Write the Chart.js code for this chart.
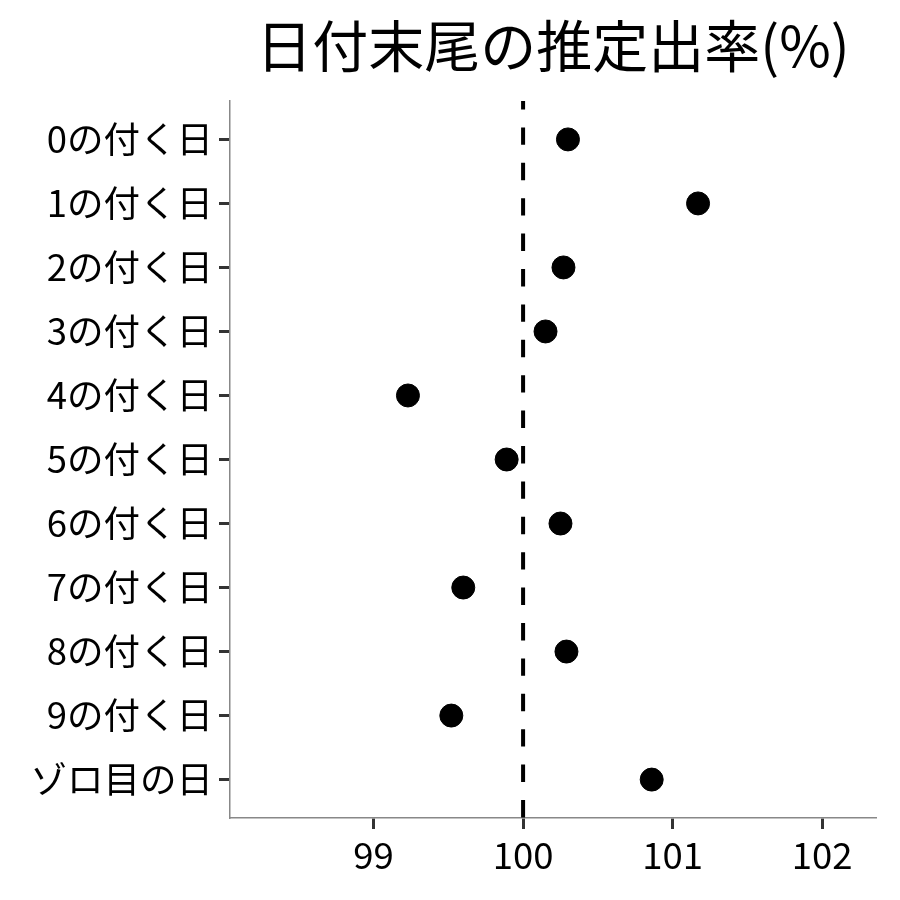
<!DOCTYPE html>
<html>
<head>
<meta charset="utf-8">
<script src="https://cdn.jsdelivr.net/npm/chart.js@4/dist/chart.umd.min.js"></script>
<style>
  html, body { margin: 0; padding: 0; background: #fff; }
  #wrap { width: 900px; height: 900px; }
</style>
</head>
<body>
<div id="wrap"><canvas id="myChart" width="900" height="900"></canvas></div>
<script>
// data
var categories = ["0の付く日", "1の付く日", "2の付く日", "3の付く日", "4の付く日",
  "5の付く日", "6の付く日", "7の付く日", "8の付く日", "9の付く日", "ゾロ目の日"];
var rates = [100.30, 101.17, 100.27, 100.15, 99.23, 99.89, 100.25, 99.60, 100.29, 99.52, 100.86];
var xTicks = [99, 100, 101, 102];
var refValue = 100;
var titleText = "日付末尾の推定出率(%)";

var FONT = "'Noto Sans CJK JP', 'Noto Sans', sans-serif";

var points = categories.map(function(c, i){ return {x: rates[i], y: i}; });
var refLine = [{x: refValue, y: -0.6}, {x: refValue, y: categories.length - 0.4}];

// title centred over the panel
var titlePlugin = {
  id: 'panelTitle',
  afterDraw: function(chart){
    var ctx = chart.ctx, a = chart.chartArea;
    ctx.save();
    ctx.fillStyle = '#000';
    ctx.font = '56px ' + FONT;
    ctx.textAlign = 'center';
    ctx.textBaseline = 'middle';
    ctx.fillText(titleText, (a.left + a.right) / 2, 46);
    ctx.restore();
  }
};

var ctx = document.getElementById('myChart').getContext('2d');
var chart = new Chart(ctx, {
  type: 'scatter',
  data: {
    datasets: [{
      data: points,
      backgroundColor: '#000',
      borderColor: '#000',
      pointRadius: 11.5,
      pointHoverRadius: 11.5,
      order: 0
    }, {
      type: 'line',
      data: refLine,
      borderColor: '#000',
      borderWidth: 4,
      borderDash: [17.4, 18],
      borderDashOffset: 9,
      pointRadius: 0,
      fill: false,
      order: 1
    }]
  },
  options: {
    responsive: false,
    animation: false,
    devicePixelRatio: 1,
    layout: { padding: { top: 101, right: 24, left: 0, bottom: 0 } },
    plugins: { legend: { display: false }, tooltip: { enabled: false }, title: { display: false } },
    scales: {
      x: {
        type: 'linear',
        min: 98.04,
        max: 102.36,
        afterBuildTicks: function(ax){ ax.ticks = xTicks.map(function(v){ return {value: v}; }); },
        afterFit: function(ax){ ax.height = 82; },
        grid: { drawOnChartArea: false, drawTicks: true, tickLength: 11, tickColor: '#333', tickWidth: 3 },
        border: { display: true, color: '#888', width: 1.5 },
        ticks: { color: '#000', font: { family: FONT, size: 36.5 }, padding: 4, maxRotation: 0 }
      },
      y: {
        type: 'linear',
        reverse: true,
        min: -0.6,
        max: categories.length - 0.4,
        afterBuildTicks: function(ax){ ax.ticks = categories.map(function(c, i){ return {value: i}; }); },
        afterFit: function(ax){ ax.width = 230; },
        grid: { drawOnChartArea: false, drawTicks: true, tickLength: 11, tickColor: '#333', tickWidth: 3 },
        border: { display: true, color: '#888', width: 1.5 },
        ticks: {
          color: '#000',
          font: { family: FONT, size: 36.5 },
          padding: 6,
          callback: function(v){ return categories[v]; }
        }
      }
    }
  },
  plugins: [titlePlugin]
});
</script>
</body>
</html>
